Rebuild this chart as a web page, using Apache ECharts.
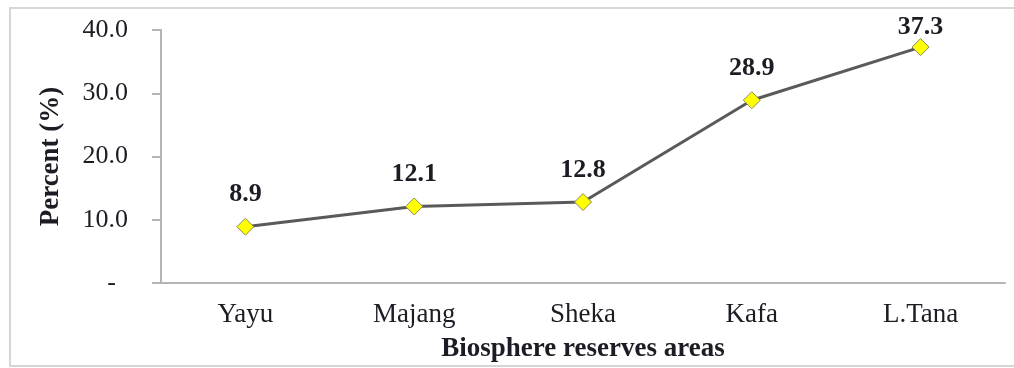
<!DOCTYPE html>
<html>
<head>
<meta charset="utf-8">
<script src="https://cdn.jsdelivr.net/npm/echarts@6/dist/echarts.min.js"></script>
<style>
  html, body { margin: 0; padding: 0; background: #fff; }
  #chart { width: 1014px; height: 368px; }
</style>
</head>
<body>
<div id="chart"></div>
<script>
// Share of respondents per biosphere reserve area
const areas = ['Yayu', 'Majang', 'Sheka', 'Kafa', 'L.Tana'];
const percents = [8.9, 12.1, 12.8, 28.9, 37.3];
const yTicks = { min: 0, max: 40, step: 10 };

const serif = '"Liberation Serif", "Times New Roman", serif';
const ink = '#1c1c24';

// labels near the top edge are tucked in closer to their marker so they stay inside the frame
const seriesData = percents.map(v =>
  v > yTicks.max - 4 ? { value: v, label: { distance: -2 } } : v
);

const chart = echarts.init(document.getElementById('chart'), null, { renderer: 'canvas' });
chart.setOption({
  animation: false,
  backgroundColor: '#fff',
  grid: { left: 161, right: 9, top: 30, bottom: 85 },
  graphic: [{
    type: 'rect',
    shape: { x: 10, y: 8, width: 1020, height: 358 },
    style: { fill: 'none', stroke: '#d6d6d6', lineWidth: 2 },
    silent: true
  }],
  xAxis: {
    type: 'category',
    data: areas,
    boundaryGap: true,
    name: 'Biosphere reserves areas',
    nameLocation: 'middle',
    nameGap: 53,
    nameTextStyle: { fontFamily: serif, fontWeight: 'bold', fontSize: 27, color: ink },
    axisLine: { lineStyle: { color: '#b4b4b4', width: 2 } },
    axisTick: { show: false },
    axisLabel: { margin: 18, fontFamily: serif, fontSize: 27, color: ink }
  },
  yAxis: {
    type: 'value',
    min: yTicks.min,
    max: yTicks.max,
    interval: yTicks.step,
    name: 'Percent (%)',
    nameLocation: 'middle',
    nameRotate: 90,
    nameGap: 96,
    nameTextStyle: { fontFamily: serif, fontWeight: 'bold', fontSize: 27, color: ink },
    splitLine: { show: false },
    axisLine: { show: true, lineStyle: { color: '#b4b4b4', width: 2 } },
    axisTick: { show: true, length: 9, lineStyle: { color: '#b4b4b4', width: 2 } },
    axisLabel: {
      margin: 33,
      fontFamily: serif,
      fontSize: 26,
      color: ink,
      formatter: v => v === 0 ? '{dash|-}' : v.toFixed(1),
      rich: { dash: { fontFamily: serif, fontSize: 26, color: ink, padding: [0, 12, 0, 0] } }
    }
  },
  series: [{
    type: 'line',
    data: seriesData,
    symbol: 'diamond',
    symbolSize: 17,
    itemStyle: { color: '#ffff00', borderColor: '#8a8a60', borderWidth: 1 },
    lineStyle: { color: '#5a5a5a', width: 3 },
    label: {
      show: true,
      position: 'top',
      distance: 10,
      fontFamily: serif,
      fontWeight: 'bold',
      fontSize: 26,
      color: ink,
      formatter: p => p.value.toFixed(1)
    }
  }]
});
</script>
</body>
</html>
